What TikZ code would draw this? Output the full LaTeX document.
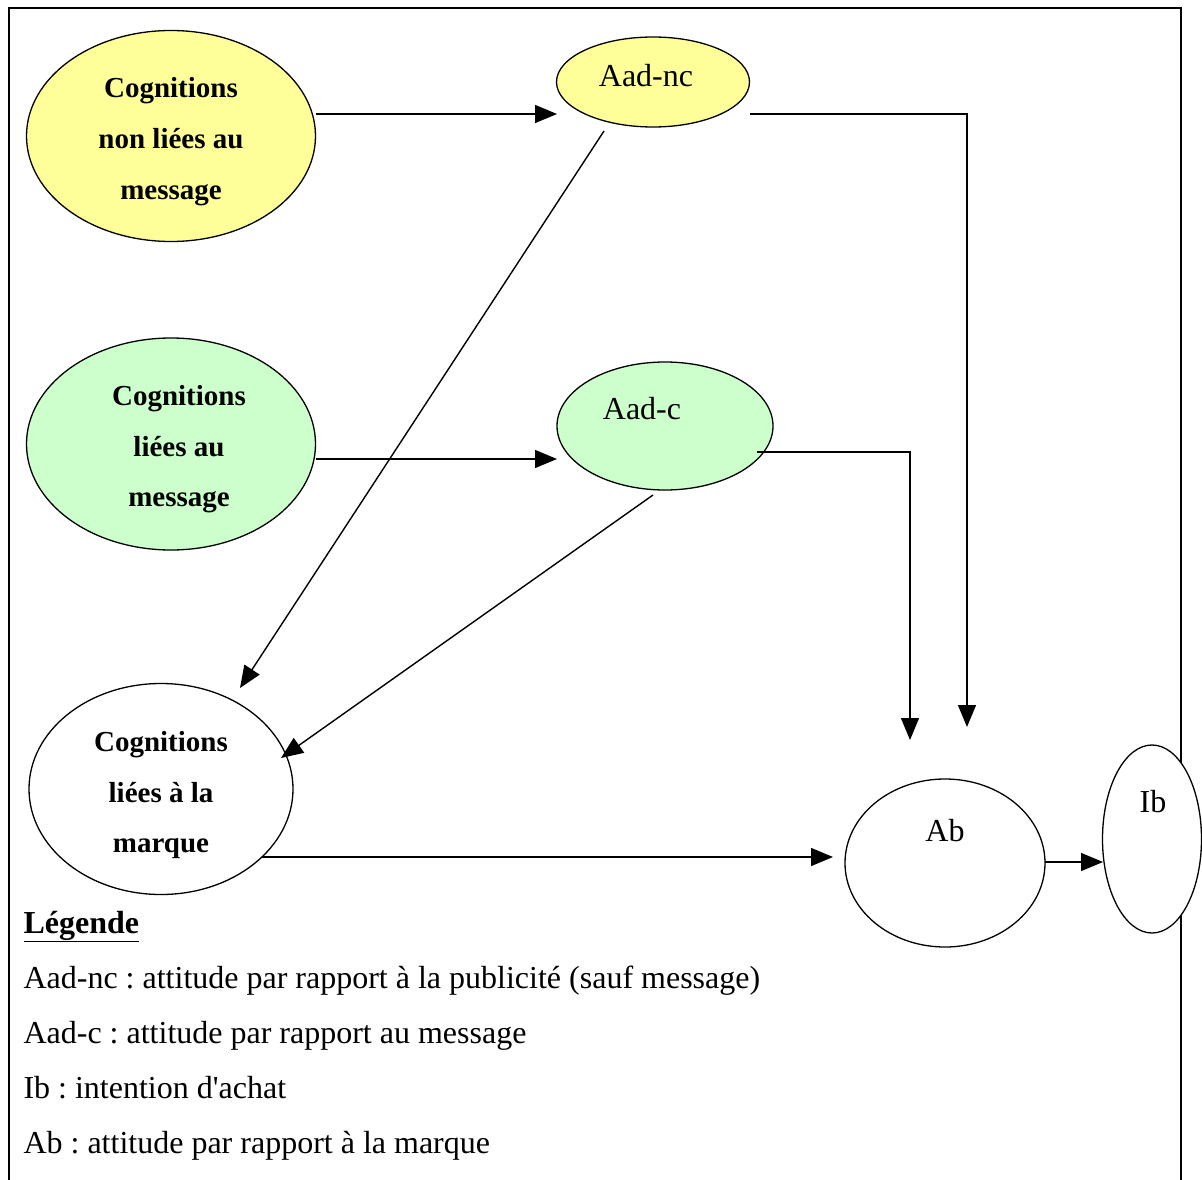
\documentclass[tikz,border=0pt]{standalone}
\usepackage{fontspec}
\setmainfont{Liberation Serif}
\usetikzlibrary{shapes.geometric,arrows.meta}
\definecolor{yel}{HTML}{FFFF99}
\definecolor{grn}{HTML}{CCFFCC}
\frenchspacing
\tikzset{
  ell/.style={ellipse,draw=black,line width=1.3pt,inner sep=0pt},
  btxt/.style={font=\fontsize{29}{51}\selectfont\bfseries,align=center,anchor=base},
  rtxt/.style={font=\fontsize{32}{38}\selectfont,anchor=base},
  ltxt/.style={font=\fontsize{32}{38}\selectfont,anchor=base west},
  conn/.style={line width=1.4pt,-{Triangle[length=22pt,width=18pt]}},
  plain/.style={line width=1.4pt}
}
\begin{document}
\begin{tikzpicture}[x=1pt,y=-1pt]
\useasboundingbox (0,0) rectangle (1202,1180);
\fill[white] (0,0) rectangle (1202,1180);
\draw[line width=2pt] (9,1190) -- (9,8) -- (1181,8) -- (1181,1190);

% ellipses
\node[ell,fill=yel,minimum width=289pt,minimum height=211pt] (cnl) at (171,136) {};
\node[ell,fill=grn,minimum width=289pt,minimum height=212pt] (cl) at (171,444) {};
\node[ell,fill=white,minimum width=264pt,minimum height=211pt] (cm) at (161,789) {};
\node[ell,fill=yel,minimum width=193pt,minimum height=90pt] (aadnc) at (653,82) {};
\node[ell,fill=grn,minimum width=216pt,minimum height=128pt] (aadc) at (665,426) {};
\node[ell,fill=white,minimum width=200pt,minimum height=168pt] (ab) at (945,863) {};
\node[ell,fill=white,minimum width=99pt,minimum height=188pt] (ib) at (1152,839) {};

% texts
\node[btxt] (t1) at (171,98) {Cognitions};
\node[btxt] (t2) at (171,149) {non liées au};
\node[btxt] (t3) at (171,199) {message};
\node[btxt] (t4) at (179,405) {Cognitions};
\node[btxt] (t5) at (179,456) {liées au};
\node[btxt] (t6) at (179,506) {message};
\node[btxt] (t7) at (161,751) {Cognitions};
\node[btxt] (t8) at (161,802) {liées à la};
\node[btxt] (t9) at (161,852) {marque};
\node[rtxt] (laadnc) at (646,87) {Aad-nc};
\node[rtxt] (laadc) at (642,419) {Aad-c};
\node[rtxt] (lab) at (945,841) {Ab};
\node[rtxt] (lib) at (1153,812) {Ib};

% connector end points
\coordinate (p1a) at (316,114);
\coordinate (p1b) at (557,114);
\coordinate (p2a) at (316,459);
\coordinate (p2b) at (557,459);
\coordinate (p3a) at (750,114);
\coordinate (p3c) at (967,114);
\coordinate (p3b) at (967,727);
\coordinate (p4a) at (757,452);
\coordinate (p4c) at (910,452);
\coordinate (p4b) at (910,740);
\coordinate (p5a) at (604,131);
\coordinate (p5b) at (240,688);
\coordinate (p6a) at (653,495);
\coordinate (p6b) at (281,758);
\coordinate (p7a) at (262,857);
\coordinate (p7b) at (833,857);
\coordinate (p8a) at (1045,862);
\coordinate (p8b) at (1103,862);

\draw[conn] (p1a) -- (p1b);
\draw[conn] (p2a) -- (p2b);
\draw[conn] (p3a) -- (p3c) -- (p3b);
\draw[conn] (p4a) -- (p4c) -- (p4b);
\draw[conn] (p5a) -- (p5b);
\draw[conn] (p6a) -- (p6b);
\draw[conn] (p7a) -- (p7b);
\draw[conn] (p8a) -- (p8b);

% legend
\node[ltxt,font=\fontsize{32}{38}\selectfont\bfseries] (leg) at (20,933) {\underline{Légende}};
\node[ltxt] (l1) at (20,988) {Aad-nc : attitude par rapport à la publicité (sauf message)};
\node[ltxt] (l2) at (20,1043) {Aad-c : attitude par rapport au message};
\node[ltxt] (l3) at (20,1098) {Ib : intention d\textquotesingle achat};
\node[ltxt] (l4) at (20,1153) {Ab : attitude par rapport à la marque};
\end{tikzpicture}
\end{document}
